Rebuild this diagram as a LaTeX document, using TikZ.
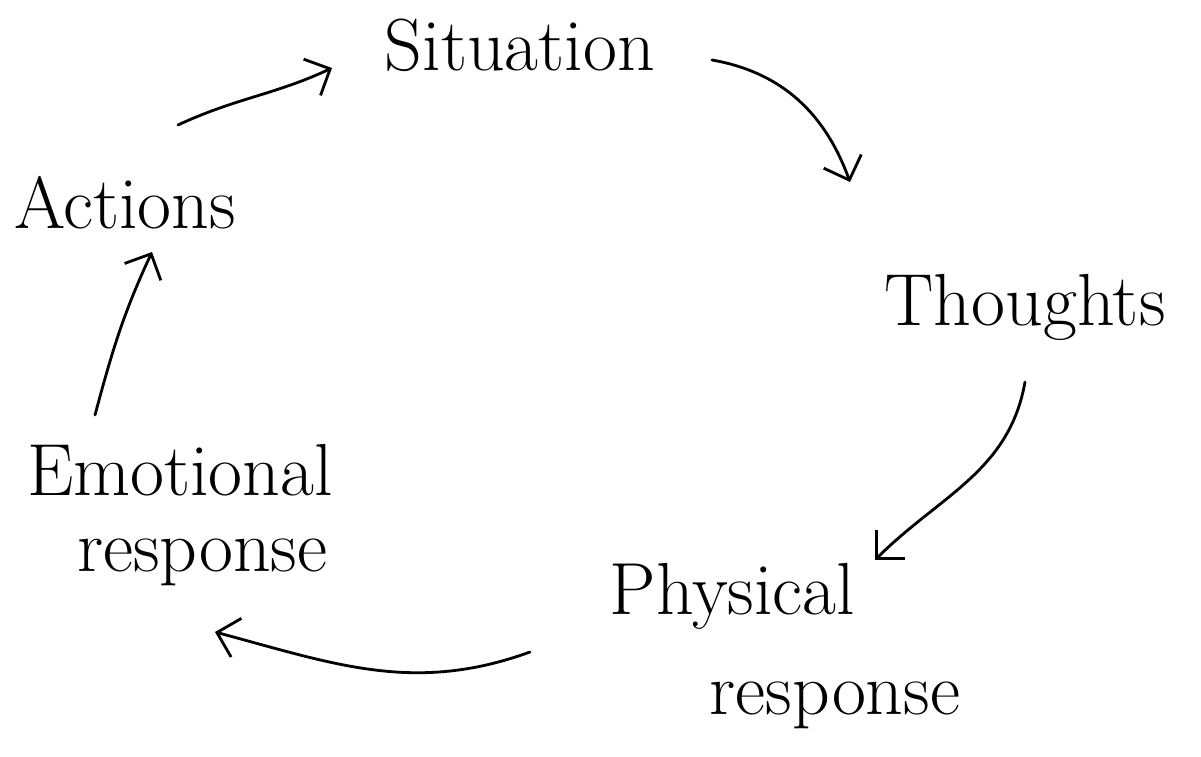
\documentclass[tikz,border=0pt]{standalone}
\usetikzlibrary{arrows.meta}

\tikzset{
  stage/.style={inner sep=0pt, font=\fontsize{42}{50}\selectfont},
  flow/.style={line width=1.6pt, line cap=round,
    -{Straight Barb[length=4mm, width=8mm, line width=1.6pt]}}
}

\begin{document}
\begin{tikzpicture}

  \useasboundingbox (0,0) rectangle (24.02,15.12);

  %% Stages of the cycle
  \node[stage] (situation) at (10.4, 14.22) {Situation};
  \node[stage] (thoughts) at (20.5, 8.98) {Thoughts};
  \node[stage, align=left] (physical) at (15.7, 2.2)
    {Physical\\[0.25cm]\hspace*{2cm}response};
  \node[stage, align=left] (emotional) at (3.6, 4.82)
    {Emotional\\[-0.25cm]\hspace*{1cm}response};
  \node[stage] (actions) at (2.5, 11.06) {Actions};

  %% Arrows round the cycle
  \draw[flow] ([shift={(1.06,1.56)}]actions.center)
    to[out=25, in=205] ([shift={(-3.76,-0.46)}]situation.center);
  \draw[flow] ([shift={(3.84,-0.3)}]situation.center)
    to[out=-10, in=110] ([shift={(-3.5,2.5)}]thoughts.center);
  \draw[flow] ([shift={(0,-1.5)}]thoughts.center)
    to[out=-100, in=45] ([shift={(1.8,1.72)}]physical.center);
  \draw[flow] ([shift={(-5.1,-0.12)}]physical.center)
    to[out=200, in=-15] ([shift={(0.7,-2.34)}]emotional.center);
  \draw[flow] ([shift={(-1.7,2.0)}]emotional.center)
    to[out=75, in=-115] ([shift={(0.54,-0.98)}]actions.center);

\end{tikzpicture}
\end{document}
